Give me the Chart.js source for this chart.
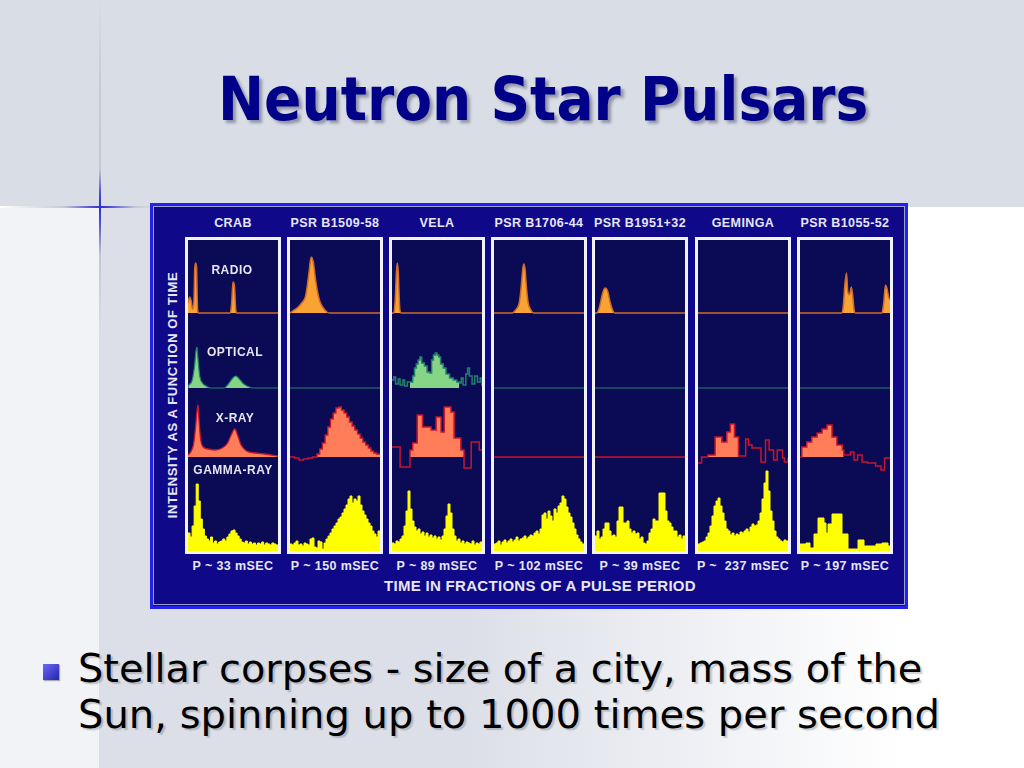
<!DOCTYPE html>
<html>
<head>
<meta charset="utf-8">
<script src="https://cdn.jsdelivr.net/npm/chart.js@4.4.0/dist/chart.umd.min.js"></script>
<style>
  html, body { margin: 0; padding: 0; }
  body { width: 1024px; height: 768px; position: relative; overflow: hidden;
    background: linear-gradient(to right, #dcdfe8 0%, #dcdfe8 45%, #ffffff 88%);
    font-family: "Liberation Sans", Arial, sans-serif; }
  .abs { position: absolute; }
  #top { left: 0; top: 0; width: 1024px; height: 207px; background: #d9dde6; }
  #side { left: 0; top: 207px; width: 99px; height: 561px; background: #f2f3f7; }
  #hline { left: 0; top: 206px; width: 160px; height: 2px;
    background: linear-gradient(to right, #ffffff 0%, #c8c9d2 40%, #4a4ad6 58%, #3030d0 63%, #4a4ad6 68%, #c8c9d2 85%, rgba(200,200,210,0) 100%); }
  #vline { left: 99px; top: 0; width: 2px; height: 340px;
    background: linear-gradient(to bottom, rgba(200,200,210,0) 0%, #c8cad3 25%, #c4c6d0 50%, #4a4ad6 57%, #3030d0 61%, #4a4ad6 65%, #c4c6d0 75%, rgba(200,200,210,0) 100%); }
  #title { left: 218px; top: 69px; font-family: "DejaVu Sans Condensed", "DejaVu Sans", sans-serif;
    font-weight: bold; font-size: 60px; line-height: 60px; color: #000088; white-space: nowrap;
    text-shadow: 3px 3px 3px rgba(60,60,90,0.45); transform-origin: left center; }
  .bul { left: 78px; font-family: "DejaVu Sans Condensed", "DejaVu Sans", sans-serif; font-size: 39px;
    line-height: 39px; color: #000; white-space: nowrap; text-shadow: 2px 2px 1px rgba(0,0,0,0.18);
    transform-origin: left center; }
  #sq { left: 43px; top: 664px; width: 16px; height: 16px; background: linear-gradient(135deg, #6a6af0, #2424b4);
    box-shadow: 1px 1px 1px rgba(0,0,0,0.3); }
  #panel { left: 150px; top: 203px; width: 758px; height: 406px; box-sizing: border-box;
    border: 3px solid #2424e8; background: #0f0888; }
  #inner { left: 153px; top: 206px; width: 752px; height: 399px; box-sizing: border-box; border: 1px solid #9c9cd8; }
  .box { top: 237px; width: 96px; height: 317px; box-sizing: border-box; border: 3px solid #f2f2fa; background: #0a0a55; }
  .box canvas { display: block; }
  .lbl { color: #e6e6f4; font-weight: bold; white-space: pre; text-align: center; transform: translate(-50%, -50%); }
  .name { font-size: 12.5px; letter-spacing: 0.4px; }
  .per { font-size: 12.5px; letter-spacing: 0.4px; }
  .bandlbl { font-size: 12px; letter-spacing: 0.5px; z-index: 5; }
  #xt { left: 540px; top: 585px; font-size: 15px; letter-spacing: 0.3px; }
  #yt { left: 172px; top: 395px; font-size: 13px; letter-spacing: 0.6px; transform: translate(-50%, -50%) rotate(-90deg); }
</style>
</head>
<body>
<div id="top" class="abs"></div>
<div id="side" class="abs"></div>
<div id="hline" class="abs"></div>
<div id="vline" class="abs"></div>
<div id="title" class="abs" data-w="650">Neutron Star Pulsars</div>
<div id="panel" class="abs"></div>
<div id="inner" class="abs"></div>
<div id="sq" class="abs"></div>
<div class="abs bul" style="top:649px" data-w="844">Stellar corpses - size of a city, mass of the</div>
<div class="abs bul" style="top:695px" data-w="862">Sun, spinning up to 1000 times per second</div>
<div id="xt" class="abs lbl">TIME IN FRACTIONS OF A PULSE PERIOD</div>
<div id="yt" class="abs lbl">INTENSITY AS A FUNCTION OF TIME</div>

<script>
// pulsars, left to right
const pulsars = ['CRAB', 'PSR B1509-58', 'VELA', 'PSR B1706-44', 'PSR B1951+32', 'GEMINGA', 'PSR B1055-52'];
const periods = ['P ~ 33 mSEC', 'P ~ 150 mSEC', 'P ~ 89 mSEC', 'P ~ 102 mSEC', 'P ~ 39 mSEC', 'P ~  237 mSEC', 'P ~ 197 mSEC'];
const bands = ['RADIO', 'OPTICAL', 'X-RAY', 'GAMMA-RAY'];

// [phase, intensity] pairs
const flat = [[0, 0], [1, 0]];

const radioCrab = [[0,10],[0.01,14],[0.02,16],[0.035,12],[0.05,4],[0.065,10],[0.075,44],[0.085,50],[0.095,46],[0.105,6],[0.115,0],[0.47,0],[0.485,10],[0.5,31],[0.515,28],[0.53,4],[0.54,0],[1,0]];
const radioB1509 = [[0,0],[0.03,2],[0.08,5],[0.13,10],[0.17,16],[0.19,26],[0.21,40],[0.23,54],[0.24,56],[0.26,50],[0.28,36],[0.3,24],[0.33,12],[0.37,5],[0.41,1],[0.44,0],[1,0]];
const radioVela = [[0,0],[0.02,0],[0.035,12],[0.05,42],[0.06,50],[0.07,40],[0.085,6],[0.1,0],[1,0]];
const radioB1706 = [[0,0],[0.2,0],[0.24,3],[0.28,10],[0.3,24],[0.32,44],[0.33,49],[0.345,44],[0.36,26],[0.38,10],[0.41,3],[0.44,0],[1,0]];
const radioB1951 = [[0,0],[0.02,0],[0.05,6],[0.08,18],[0.11,25],[0.14,22],[0.17,10],[0.2,2],[0.22,0],[1,0]];
const radioB1055 = [[0,0],[0.46,0],[0.48,6],[0.5,30],[0.517,40],[0.53,22],[0.55,18],[0.57,26],[0.585,18],[0.6,4],[0.615,0],[0.91,0],[0.93,10],[0.95,28],[0.965,25],[0.985,16],[1,13]];

const optCrab = [[0,0],[0.01,3],[0.04,6],[0.07,20],[0.09,38],[0.1,41],[0.11,30],[0.13,12],[0.16,5],[0.2,2],[0.25,0],[0.4,0],[0.44,3],[0.49,9],[0.53,12],[0.57,9],[0.62,4],[0.68,1],[0.72,0],[1,0]];
const optVela = [[0,8],[0.02,11],[0.04,4],[0.07,9],[0.09,3],[0.12,8],[0.14,2],[0.17,6],[0.2,6],[0.23,12],[0.25,20],[0.27,24],[0.29,28],[0.31,31],[0.33,25],[0.36,22],[0.39,16],[0.42,15],[0.44,28],[0.46,33],[0.48,35],[0.5,33],[0.52,31],[0.54,24],[0.57,20],[0.6,14],[0.64,10],[0.68,8],[0.72,6],[0.75,5],[0.77,10],[0.79,3],[0.82,14],[0.84,20],[0.86,12],[0.89,4],[0.92,12],[0.95,6],[0.98,10],[1,2]];
const optVelaPulse = [0.2, 0.75];

const xrayCrab = [[0,2],[0.03,5],[0.06,12],[0.08,26],[0.1,46],[0.11,52],[0.12,40],[0.14,18],[0.17,10],[0.22,8],[0.3,7],[0.38,9],[0.44,14],[0.48,22],[0.52,28],[0.55,22],[0.59,12],[0.65,6],[0.75,4],[0.85,3],[1,1]];
const xrayB1509 = [[0,0],[0.05,-1],[0.1,-3],[0.15,-2],[0.2,-1],[0.25,0],[0.3,3],[0.33,8],[0.36,14],[0.39,22],[0.42,30],[0.45,38],[0.48,44],[0.51,49],[0.54,50],[0.57,47],[0.6,44],[0.63,40],[0.66,35],[0.69,31],[0.72,27],[0.75,23],[0.78,19],[0.81,15],[0.84,12],[0.87,9],[0.9,6],[0.93,4],[0.96,3],[1,2]];
const xrayVela = [[0,10],[0.09,-10],[0.2,7],[0.23,14],[0.28,42],[0.34,30],[0.435,27],[0.49,40],[0.545,25],[0.58,50],[0.655,45],[0.69,19],[0.765,7],[0.8,-11],[0.88,15],[0.97,7],[1,7]];
const xrayVelaPulse = [0.2, 0.8];
const xrayGeminga = [[0,-6],[0.04,0],[0.11,2],[0.19,20],[0.265,15],[0.32,25],[0.36,33],[0.405,20],[0.45,1],[0.53,18],[0.56,12],[0.6,9],[0.7,-5],[0.75,17],[0.79,7],[0.84,-3],[0.88,7],[0.94,-1],[0.96,-5],[1,-1]];
const xrayGemingaPulse = [0.11, 0.45];
const xrayB1055 = [[0,0],[0.02,10],[0.075,15],[0.13,20],[0.19,24],[0.245,28],[0.3,32],[0.356,20],[0.41,12],[0.47,7],[0.487,2],[0.56,5],[0.6,-3],[0.64,2],[0.69,-5],[0.75,-6],[0.84,-9],[0.9,-13],[0.94,-1],[1,-1]];
const xrayB1055Pulse = [0.02, 0.487];

// gamma-ray counts, equal phase bins
const gammaCrab = [18,14,25,45,67,50,32,22,15,12,10,14,8,10,7,9,10,12,10,14,17,20,21,18,15,12,9,8,10,7,9,7,8,6,8,7,9,6,8,7,6,8,7,6];
const gammaB1509 = [7,6,8,10,6,7,5,8,7,6,12,13,4,3,10,9,2,8,12,15,18,22,25,28,32,34,38,42,46,52,55,48,52,50,55,46,40,36,32,28,25,20,17,14,20];
const gammaVela = [8,7,10,9,12,15,25,40,60,42,30,24,20,22,17,19,15,18,14,16,13,15,12,14,11,15,22,35,47,38,22,15,10,12,8,10,7,9,8,7,10,6,8,7,9];
const gammaB1706 = [7,8,10,6,9,11,8,10,12,9,11,14,10,12,13,15,12,14,16,15,18,20,17,22,36,38,32,40,35,30,42,38,45,48,55,52,44,38,34,28,22,16,12,9,7];
const gammaB1951 = [15,20,12,14,22,28,28,20,15,16,14,30,44,44,28,28,30,22,18,20,17,18,12,14,8,7,10,18,22,32,30,30,58,58,58,40,30,28,24,20,20,14,16,12,15];
const gammaGeminga = [7,8,9,10,14,18,25,35,45,50,53,45,38,30,22,20,16,18,15,17,16,19,18,20,22,19,24,27,25,26,30,38,52,68,80,60,40,30,20,14,12,10,9,11,10];
const gammaB1055 = [7,7,7,8,8,3,3,17,17,33,33,33,28,18,27,27,37,37,37,37,37,17,17,17,2,2,2,2,2,11,11,11,5,5,5,5,5,5,7,7,7,8,8,8,5];

// table of the columns for the charts
const columns = [
  { radio: radioCrab,  opt: optCrab, optWin: null, xray: xrayCrab, xrayWin: null, gamma: gammaCrab, smooth: true },
  { radio: radioB1509, opt: flat, optWin: null, xray: xrayB1509, xrayWin: null, gamma: gammaB1509 },
  { radio: radioVela,  opt: optVela, optWin: optVelaPulse, xray: xrayVela, xrayWin: xrayVelaPulse, gamma: gammaVela },
  { radio: radioB1706, opt: flat, optWin: null, xray: flat, xrayWin: null, gamma: gammaB1706 },
  { radio: radioB1951, opt: flat, optWin: null, xray: flat, xrayWin: null, gamma: gammaB1951 },
  { radio: flat,       opt: flat, optWin: null, xray: xrayGeminga, xrayWin: xrayGemingaPulse, gamma: gammaGeminga },
  { radio: radioB1055, opt: flat, optWin: null, xray: xrayB1055, xrayWin: xrayB1055Pulse, gamma: gammaB1055 }
];

// layout: box positions and band baselines (chart units)
const boxLeft = [185, 287, 389, 491, 592, 695, 797];
const base = { radio: 238, optical: 163, xray: 94, gamma: 0 };
const col = { radioLine: '#d06a2a', radioFill: '#f8a334', optLine: '#23806a', optFill: '#86d486',
  xrayLine: '#c8162c', xrayFill: '#ff7d58', gamma: '#ffff00' };

function pts(pairs, b) { return pairs.map(p => ({ x: p[0], y: b + p[1] })); }
function binPts(bins, b) {
  const n = bins.length;
  const out = bins.map((v, i) => ({ x: i / n, y: b + v }));
  out.push({ x: 1, y: b + bins[n - 1] });
  return out;
}
function win(pairs, w) { return pairs.filter(p => p[0] >= w[0] && p[0] <= w[1]); }
function fillTo(b, c) { return { target: { value: b }, above: c, below: 'rgba(0,0,0,0)' }; }

const body = document.body;
function addLabel(text, cls, x, y) {
  const d = document.createElement('div');
  d.className = 'abs lbl ' + cls;
  d.textContent = text;
  d.style.left = x + 'px';
  d.style.top = y + 'px';
  body.appendChild(d);
}

columns.forEach((c, i) => {
  const box = document.createElement('div');
  box.className = 'abs box';
  box.style.left = boxLeft[i] + 'px';
  const cv = document.createElement('canvas');
  cv.width = 90; cv.height = 311;
  box.appendChild(cv);
  body.appendChild(box);

  addLabel(pulsars[i], 'name', boxLeft[i] + 48, 223);
  addLabel(periods[i], 'per', boxLeft[i] + 48, 566);

  const curve = c.smooth ? { cubicInterpolationMode: 'monotone' } : { stepped: true };
  const ds = [];
  ds.push({ data: pts(c.radio, base.radio), borderColor: col.radioLine, borderWidth: 1.5,
    fill: fillTo(base.radio, col.radioFill), cubicInterpolationMode: 'monotone' });
  if (c.optWin) {
    ds.push({ data: pts(c.opt, base.optical), borderColor: col.optLine, borderWidth: 1.5, fill: false, stepped: true });
    ds.push({ data: pts(win(c.opt, c.optWin), base.optical), borderWidth: 0, borderColor: col.optFill,
      fill: fillTo(base.optical, col.optFill), stepped: true });
  } else {
    ds.push(Object.assign({ data: pts(c.opt, base.optical), borderColor: col.optLine, borderWidth: 1.2,
      fill: fillTo(base.optical, col.optFill) }, i === 0 ? { cubicInterpolationMode: 'monotone' } : {}));
  }
  if (c.xrayWin) {
    ds.push({ data: pts(c.xray, base.xray), borderColor: col.xrayLine, borderWidth: 1.5, fill: false, stepped: true });
    ds.push({ data: pts(win(c.xray, c.xrayWin), base.xray), borderWidth: 0, borderColor: col.xrayFill,
      fill: fillTo(base.xray, col.xrayFill), stepped: true });
  } else {
    ds.push(Object.assign({ data: pts(c.xray, base.xray), borderColor: col.xrayLine, borderWidth: 1.3,
      fill: fillTo(base.xray, col.xrayFill) }, curve));
  }
  ds.push({ data: binPts(c.gamma, base.gamma), borderColor: col.gamma, borderWidth: 1,
    fill: fillTo(base.gamma, col.gamma), stepped: true });

  new Chart(cv, {
    type: 'line',
    data: { datasets: ds },
    options: {
      responsive: false,
      animation: false,
      events: [],
      layout: { padding: 0 },
      elements: { point: { radius: 0 } },
      plugins: { legend: { display: false }, tooltip: { enabled: false } },
      scales: {
        x: { type: 'linear', min: 0, max: 1, display: false },
        y: { min: 0, max: 311, display: false }
      }
    }
  });
});

// band names inside the first box
addLabel(bands[0], 'bandlbl', 232, 270);
addLabel(bands[1], 'bandlbl', 235, 352);
addLabel(bands[2], 'bandlbl', 235, 418);
addLabel(bands[3], 'bandlbl', 233, 470);

// squeeze the big text to the widths on the slide
document.querySelectorAll('[data-w]').forEach(el => {
  const w = el.scrollWidth;
  el.style.transform = 'scaleX(' + (+el.dataset.w / w) + ')';
});
</script>
</body>
</html>
